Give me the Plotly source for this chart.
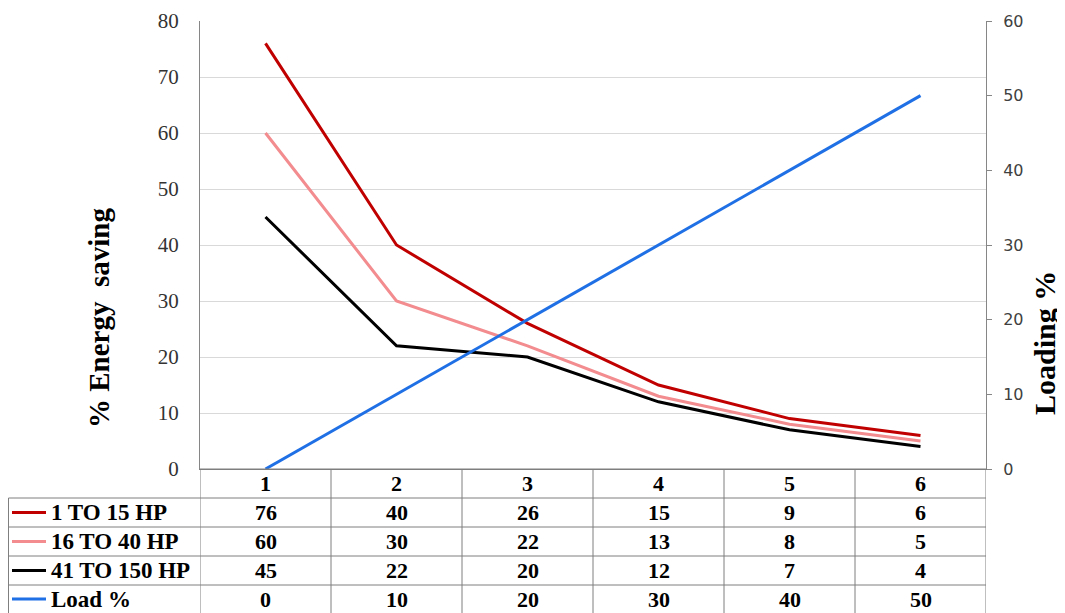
import plotly.graph_objects as go

# ---- data ----
categories = [1, 2, 3, 4, 5, 6]
series_names = ["1 TO 15 HP", "16 TO 40 HP", "41 TO 150 HP", "Load %"]
hp_1_15 = [76, 40, 26, 15, 9, 6]
hp_16_40 = [60, 30, 22, 13, 8, 5]
hp_41_150 = [45, 22, 20, 12, 7, 4]
load_pct = [0, 10, 20, 30, 40, 50]
left_ticks = [0, 10, 20, 30, 40, 50, 60, 70, 80]
right_ticks = [0, 10, 20, 30, 40, 50, 60]

series_values = [hp_1_15, hp_16_40, hp_41_150, load_pct]
colors = ["#C00000", "#F28C8F", "#000000", "#1F6FE5"]
axes = ["y", "y", "y", "y2"]

# page has an 8px body margin; figure is sized to fill the remaining window
OFF = 8
W, H = 1065 - OFF, 613 - OFF
def X(px):
    return (px - OFF) / W
def Y(py):
    return 1 - (py - OFF) / H

plot_left, plot_right = 200, 986
plot_top, plot_bottom = 21, 469
row_edges = [469, 498, 527, 556, 585, 613]
table_left = 8.5
grid_col = "#7f7f7f"
serif = "Liberation Serif"

fig = go.Figure()
for name, vals, col, ax in zip(series_names, series_values, colors, axes):
    fig.add_trace(go.Scatter(x=categories, y=vals, name=name, mode="lines",
                             line=dict(color=col, width=3), yaxis=ax,
                             showlegend=False))

shapes = []
annotations = []

# table horizontal lines
for i, ry in enumerate(row_edges[:-1]):
    x0 = X(plot_left) if i == 0 else X(table_left)
    shapes.append(dict(type="line", xref="paper", yref="paper",
                       x0=x0, x1=X(plot_right), y0=Y(ry), y1=Y(ry),
                       line=dict(color=grid_col, width=1)))
# vertical lines in data columns
for k in range(len(categories) + 1):
    xv = categories[0] - 0.5 + k
    shapes.append(dict(type="line", xref="x", yref="paper",
                       x0=xv, x1=xv, y0=Y(row_edges[0]), y1=Y(row_edges[-1]),
                       line=dict(color=grid_col, width=1)))
# left border of label column
shapes.append(dict(type="line", xref="paper", yref="paper",
                   x0=X(table_left), x1=X(table_left),
                   y0=Y(row_edges[1]), y1=Y(row_edges[-1]),
                   line=dict(color=grid_col, width=1)))

nfont = dict(family=serif, size=22, color="#000000")
lfont = dict(family=serif, size=23, color="#000000")
# header row: categories
hy = (row_edges[0] + row_edges[1]) / 2
for c in categories:
    annotations.append(dict(x=c, y=Y(hy), xref="x", yref="paper",
                            text=f"<b>{c}</b>", showarrow=False, font=nfont,
                            xanchor="center", yanchor="middle"))
# data rows
for r, (name, vals, col) in enumerate(zip(series_names, series_values, colors)):
    cy = (row_edges[r + 1] + row_edges[r + 2]) / 2
    shapes.append(dict(type="line", xref="paper", yref="paper",
                       x0=X(12), x1=X(46), y0=Y(cy), y1=Y(cy),
                       line=dict(color=col, width=3)))
    annotations.append(dict(x=X(49), y=Y(cy), xref="paper", yref="paper",
                            text=f"<b>{name}</b>", showarrow=False, font=lfont,
                            xanchor="left", yanchor="middle"))
    for c, v in zip(categories, vals):
        annotations.append(dict(x=c, y=Y(cy), xref="x", yref="paper",
                                text=f"<b>{v}</b>", showarrow=False, font=nfont,
                                xanchor="center", yanchor="middle"))

# axis titles
annotations.append(dict(x=X(99), y=Y(318), xref="paper", yref="paper",
                        text="<b>% Energy  saving</b>", textangle=-90,
                        showarrow=False, font=dict(family=serif, size=29, color="#000"),
                        xanchor="center", yanchor="middle"))
annotations.append(dict(x=X(1044), y=Y(343), xref="paper", yref="paper",
                        text="<b>Loading %</b>", textangle=-90,
                        showarrow=False, font=dict(family=serif, size=30, color="#000"),
                        xanchor="center", yanchor="middle"))

fig.update_layout(
    template="none",
    width=W, height=H, autosize=False,
    margin=dict(l=0, r=0, t=0, b=0, pad=0),
    paper_bgcolor="white", plot_bgcolor="white",
    xaxis=dict(domain=[X(plot_left), X(plot_right)], automargin=False,
               range=[categories[0] - 0.5, categories[-1] + 0.5],
               showticklabels=False, showgrid=False, zeroline=False,
               showline=True, linecolor=grid_col, linewidth=1, ticks=""),
    yaxis=dict(domain=[Y(plot_bottom), Y(plot_top)], range=[0, 80], automargin=False,
               tickvals=left_ticks, showgrid=True, gridcolor="#d9d9d9",
               zeroline=False, showline=True, linecolor="#868686",
               ticks="outside", ticklen=0, ticklabelstandoff=16,
               tickfont=dict(family=serif, size=21, color="#333333")),
    yaxis2=dict(overlaying="y", side="right", anchor="x", range=[0, 60], automargin=False,
                tickvals=right_ticks, showgrid=False, zeroline=False,
                showline=True, linecolor="#868686", ticks="outside",
                ticklen=5, tickcolor="#868686", ticklabelstandoff=8,
                tickfont=dict(family="DejaVu Sans", size=16, color="#404040")),
    shapes=shapes, annotations=annotations,
)

fig.write_html("out.html")
